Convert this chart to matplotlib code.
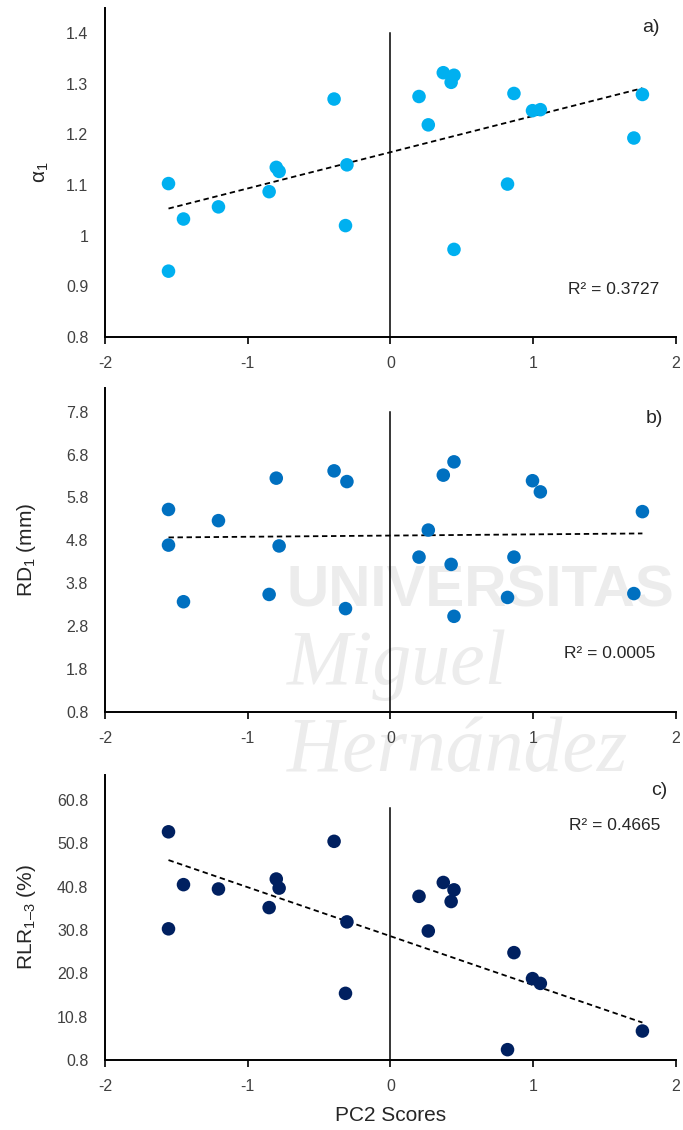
import matplotlib
matplotlib.use("Agg")
import matplotlib.pyplot as plt
import numpy as np

plt.rcParams['font.family'] = ['Liberation Sans', 'DejaVu Sans']
plt.rcParams['mathtext.fontset'] = 'custom'
plt.rcParams['mathtext.rm'] = 'Liberation Sans'
plt.rcParams['mathtext.it'] = 'Liberation Sans:italic'
plt.rcParams['axes.unicode_minus'] = False

# PC2 scores (same subjects in every panel)
pc2 = [-1.555, -1.555, -1.45, -1.205, -0.85, -0.80, -0.78, -0.395, -0.305, -0.315,
       0.20, 0.265, 0.37, 0.445, 0.425, 0.445, 0.82, 0.865, 0.995, 1.05, 1.705, 1.765]

alpha1 = [1.103, 0.93, 1.033, 1.057, 1.087, 1.135, 1.127, 1.27, 1.14, 1.02,
          1.275, 1.219, 1.322, 1.317, 1.303, 0.973, 1.102, 1.281, 1.247, 1.249, 1.193, 1.279]

rd1 = [5.52, 4.69, 3.37, 5.26, 3.54, 6.25, 4.67, 6.42, 6.17, 3.21,
       4.41, 5.04, 6.32, 6.63, 4.24, 3.03, 3.47, 4.41, 6.19, 5.93, 3.56, 5.47]

# two subjects have no visible RLR value
rlr13 = [53.5, 31.1, 41.3, 40.3, 36.0, 42.6, 40.5, 51.3, 32.7, 16.2,
         38.6, 30.6, 41.8, 40.1, 37.4, np.nan, 3.2, 25.6, 19.6, 18.5, np.nan, 7.5]

# linear trend lines as printed in the figure (slope, intercept)
trend_slope = [0.0716, 0.028, -11.3]
trend_intercept = [1.165, 4.912, 29.4]

r2_labels = ['R² = 0.3727', 'R² = 0.0005', 'R² = 0.4665']
panel_labels = ['a)', 'b)', 'c)']
y_titles = ['α$_1$', 'RD$_1$ (mm)', 'RLR$_{1\u20133}$ (%)']
x_ticks = [-2, -1, 0, 1, 2]


def panel(fig, rect, x, y, color, trend, yticks, ylim, ytitle, ytitle_x,
          r2, r2_pos, lab, lab_pos, line_top):
    ax = fig.add_axes(rect)
    ax.set_facecolor('none')
    ax.set_zorder(1)
    x = np.array(x)
    y = np.array(y, dtype=float)
    ok = ~np.isnan(y)
    ax.scatter(x[ok], y[ok], s=95, color=color, edgecolors='none', zorder=3, clip_on=False)

    # trend line over the data range
    k, c0 = trend
    xs = np.array([x[ok].min(), x[ok].max()])
    ax.plot(xs, k * xs + c0, color='black', linestyle=(0, (3, 2)), linewidth=1.3, zorder=2)

    ax.plot([0, 0], [ylim[0], line_top], color='black', linewidth=1.1, zorder=1)

    ax.set_xlim(-2, 2)
    ax.set_ylim(*ylim)
    ax.set_xticks(x_ticks)
    ax.set_xticklabels([str(t) for t in x_ticks])
    ax.set_yticks(yticks)
    ax.set_yticklabels([f'{round(v, 1):g}' for v in yticks])
    for s in ['top', 'right']:
        ax.spines[s].set_visible(False)
    for s in ['left', 'bottom']:
        ax.spines[s].set_linewidth(1.4)
        ax.spines[s].set_color('black')
    ax.tick_params(axis='x', direction='out', length=5, width=1.2, pad=9,
                   labelsize=11.5, labelcolor='#404040')
    ax.tick_params(axis='y', length=0, pad=12, labelsize=11.5, labelcolor='#404040')

    ax.text(ytitle_x, 0.5, ytitle, transform=ax.transAxes, rotation=90,
            ha='center', va='center', fontsize=15, color='#262626')
    ax.text(r2_pos[0], r2_pos[1], r2, transform=ax.transAxes, ha='right',
            va='center', fontsize=12.5, color='#262626')
    ax.text(lab_pos[0], lab_pos[1], lab, transform=ax.transAxes, ha='right',
            va='center', fontsize=14, color='#262626')
    return ax


def watermark(fig):
    wm = '#ececec'
    fig.text(0.42, 0.463, 'UNIVERSITAS', fontsize=42, fontweight='bold',
             va='baseline', color=wm, zorder=0.5)
    fig.text(0.42, 0.395, 'Miguel', fontsize=56, style='italic',
             family=['Liberation Serif', 'DejaVu Serif'], color=wm, zorder=0.5)
    fig.text(0.42, 0.318, 'Hernández', fontsize=56, style='italic',
             family=['Liberation Serif', 'DejaVu Serif'], color=wm, zorder=0.5)


def main():
    fig = plt.figure(figsize=(6.83, 11.3), dpi=100)
    watermark(fig)

    panel(fig, [0.1537, 0.7018, 0.836, 0.2912], pc2, alpha1, '#00B0F0',
          (trend_slope[0], trend_intercept[0]),
          np.arange(0.8, 1.41, 0.1), (0.8, 1.45), y_titles[0], -0.112,
          r2_labels[0], (0.971, 0.143), panel_labels[0], (0.971, 0.94), 1.4)

    panel(fig, [0.1537, 0.3699, 0.836, 0.2867], pc2, rd1, '#0070C0',
          (trend_slope[1], trend_intercept[1]),
          np.arange(0.8, 7.81, 1.0), (0.8, 8.35), y_titles[1], -0.138,
          r2_labels[1], (0.964, 0.18), panel_labels[1], (0.978, 0.906), 7.8)

    ax = panel(fig, [0.1537, 0.0619, 0.836, 0.2522], pc2, rlr13, '#002060',
               (trend_slope[2], trend_intercept[2]),
               np.arange(0.8, 60.81, 10.0), (0.8, 66.6), y_titles[2], -0.138,
               r2_labels[2], (0.973, 0.824), panel_labels[2], (0.985, 0.947), 59.0)
    ax.set_xlabel('PC2 Scores', fontsize=15, color='#262626', labelpad=8)

    fig.savefig('out.png', dpi=100)


main()
